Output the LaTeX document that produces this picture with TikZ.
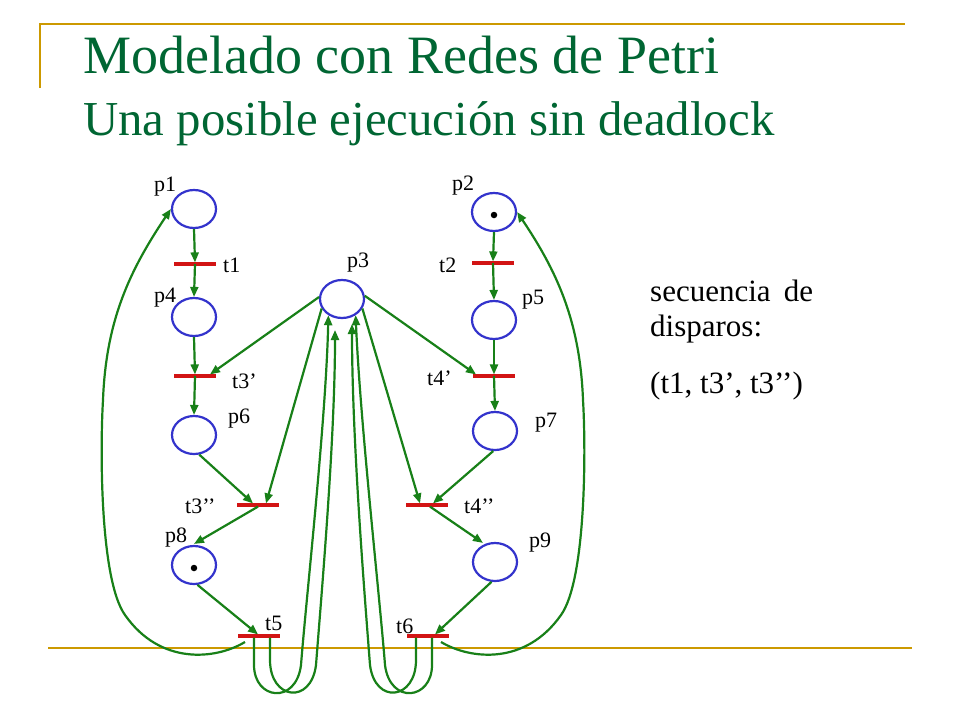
\documentclass[tikz,border=0pt]{standalone}
\usepackage{fontspec}
\setmainfont{Liberation Serif}
\usetikzlibrary{shapes.geometric,arrows.meta,calc}
\definecolor{titlegreen}{RGB}{0,102,51}
\definecolor{arcgreen}{RGB}{24,128,24}
\definecolor{placeblue}{RGB}{51,51,204}
\definecolor{transred}{RGB}{210,20,20}
\definecolor{rulegold}{RGB}{204,153,0}
\tikzset{
  arc/.style={draw=arcgreen, line width=2.2pt, -{Triangle[length=10pt,width=8pt]}},
  place/.style={ellipse, draw=placeblue, line width=2.2pt, minimum width=44pt, minimum height=38pt, inner sep=0pt},
  trans/.style={rectangle, fill=transred, minimum width=42pt, minimum height=3.2pt, inner sep=0pt, outer sep=0pt},
  lbl/.style={anchor=base west, inner sep=0pt, font=\fontsize{22}{25}\selectfont},
  token/.style={circle, fill=black, minimum size=6.5pt, inner sep=0pt},
  rulel/.style={draw=rulegold, line width=2.4pt},
  sidetext/.style={anchor=base west, inner sep=0pt, font=\fontsize{31}{35}\selectfont},
}
\begin{document}
\begin{tikzpicture}[x=1pt,y=-1pt]
\path[use as bounding box, fill=white] (0,0) rectangle (960,720);

% rules
\coordinate (r1) at (40,24);
\coordinate (r2) at (905,24);
\coordinate (r3) at (40,88);
\coordinate (r4) at (48,648);
\coordinate (r5) at (912,648);
\draw[rulel] (r3) -- (r1) -- (r2);
\draw[rulel] (r4) -- (r5);

% title
\node[anchor=base west, inner sep=0pt, text=titlegreen, font=\fontsize{54}{60}\selectfont] (title1) at (83,73) {Modelado con Redes de Petri};
\node[anchor=base west, inner sep=0pt, text=titlegreen, font=\fontsize{48.8}{55}\selectfont] (title2) at (83,135) {Una posible ejecución sin deadlock};

% places
\node[place] (p1) at (194,209) {};
\node[place] (p2) at (494,212) {};
\node[place] (p3) at (342,299) {};
\node[place] (p4) at (194,317) {};
\node[place] (p5) at (494,320) {};
\node[place] (p6) at (194,435) {};
\node[place] (p7) at (495,431) {};
\node[place] (p8) at (194,565) {};
\node[place] (p9) at (495,562) {};
\node[token] (k2) at (494,215) {};
\node[token] (k8) at (194,568) {};

% transitions
\node[trans] (t1) at (195,264) {};
\node[trans] (t2) at (493,263) {};
\node[trans] (t3p) at (195,376) {};
\node[trans] (t4p) at (494,376) {};
\node[trans] (t3pp) at (258,505) {};
\node[trans] (t4pp) at (427,505) {};
\node[trans] (t5) at (259,636) {};
\node[trans] (t6) at (428,636) {};

% labels
\node[lbl] (lp1) at (154,191) {p1};
\node[lbl] (lp2) at (452,190) {p2};
\node[lbl] (lt1) at (223,272) {t1};
\node[lbl] (lt2) at (439,272) {t2};
\node[lbl] (lp3) at (347,267) {p3};
\node[lbl] (lp4) at (154,302) {p4};
\node[lbl] (lp5) at (522,304) {p5};
\node[lbl] (lt3p) at (232,388) {t3’};
\node[lbl] (lt4p) at (427,385) {t4’};
\node[lbl] (lp6) at (228,423) {p6};
\node[lbl] (lp7) at (535,427) {p7};
\node[lbl] (lt3pp) at (185,513) {t3’{}’};
\node[lbl] (lt4pp) at (464,513) {t4’{}’};
\node[lbl] (lp8) at (165,542) {p8};
\node[lbl] (lp9) at (529,547) {p9};
\node[lbl] (lt5) at (265,630) {t5};
\node[lbl] (lt6) at (396,633) {t6};

% side text
\node[sidetext] (s1) at (650,301) {\makebox[163pt][s]{secuencia de}};
\node[sidetext] (s2) at (650,336) {disparos:};
\node[sidetext] (s3) at (650,393) {(t1, t3’, t3’{}’)};

% straight arcs
\draw[arc] (p1.south) -- (t1.north);
\draw[arc] (t1.center) -- (p4.north);
\draw[arc] (p4.south) -- (t3p.north);
\draw[arc] (t3p.center) -- (p6.north);
\draw[arc] (p2.south) -- (t2.north);
\draw[arc] (t2.center) -- (p5.north);
\draw[arc] (p5.south) -- (t4p.north);
\draw[arc] (t4p.center) -- (p7.north);
\draw[arc] (p3.175) -- ([xshift=15pt]t3p.north);
\draw[arc] (p3.8) -- ([xshift=-18pt]t4p.north);
\draw[arc] (p6.-75) -- ([xshift=-5pt]t3pp.north);
\draw[arc] (p3.-155) -- ([xshift=8pt]t3pp.north);
\draw[arc, shorten >=2pt] (t3pp.south) -- (p8.95);
\draw[arc] (p7.-95) -- ([xshift=6pt]t4pp.north);
\draw[arc] (p3.-25) -- ([xshift=-7pt]t4pp.north);
\draw[arc, shorten >=2pt] ([xshift=3pt]t4pp.south) -- (p9.120);
\draw[arc] (p8.-80) -- ([xshift=-1pt]t5.north);
\draw[arc] (p9.-100) -- ([xshift=7pt]t6.north);

% big loops
\coordinate (l5) at (245,642);
\coordinate (r6) at (441,642);
\draw[arc] (l5) .. controls (215,660) and (160,665) .. (125,615)
  .. controls (100,580) and (100,450) .. (103,400)
  .. controls (106,320) and (130,270) .. (p1.west);
\draw[arc] (r6) .. controls (471,660) and (526,665) .. (561,615)
  .. controls (586,580) and (586,450) .. (583,400)
  .. controls (580,320) and (556,270) .. (p2.east);

% U loops to p3
\coordinate (b3) at (335,330);
\coordinate (c3) at (352,324);
\draw[arc] ([xshift=-5pt]t5.south) -- (254,665) .. controls (254,700) and (296,705) .. (301,665)
  .. controls (306,600) and (326,420) .. (p3.-130);
\draw[arc] ([xshift=11pt]t5.south) -- (270,660) .. controls (270,700) and (311,705) .. (316,665)
  .. controls (321,600) and (335,440) .. (b3);
\draw[arc] ([xshift=4pt]t6.south) -- (432,665) .. controls (432,700) and (390,705) .. (385,665)
  .. controls (380,600) and (360,420) .. (p3.-50);
\draw[arc] ([xshift=-12pt]t6.south) -- (416,660) .. controls (416,700) and (375,705) .. (370,665)
  .. controls (365,600) and (352,440) .. (c3);
\end{tikzpicture}
\end{document}
